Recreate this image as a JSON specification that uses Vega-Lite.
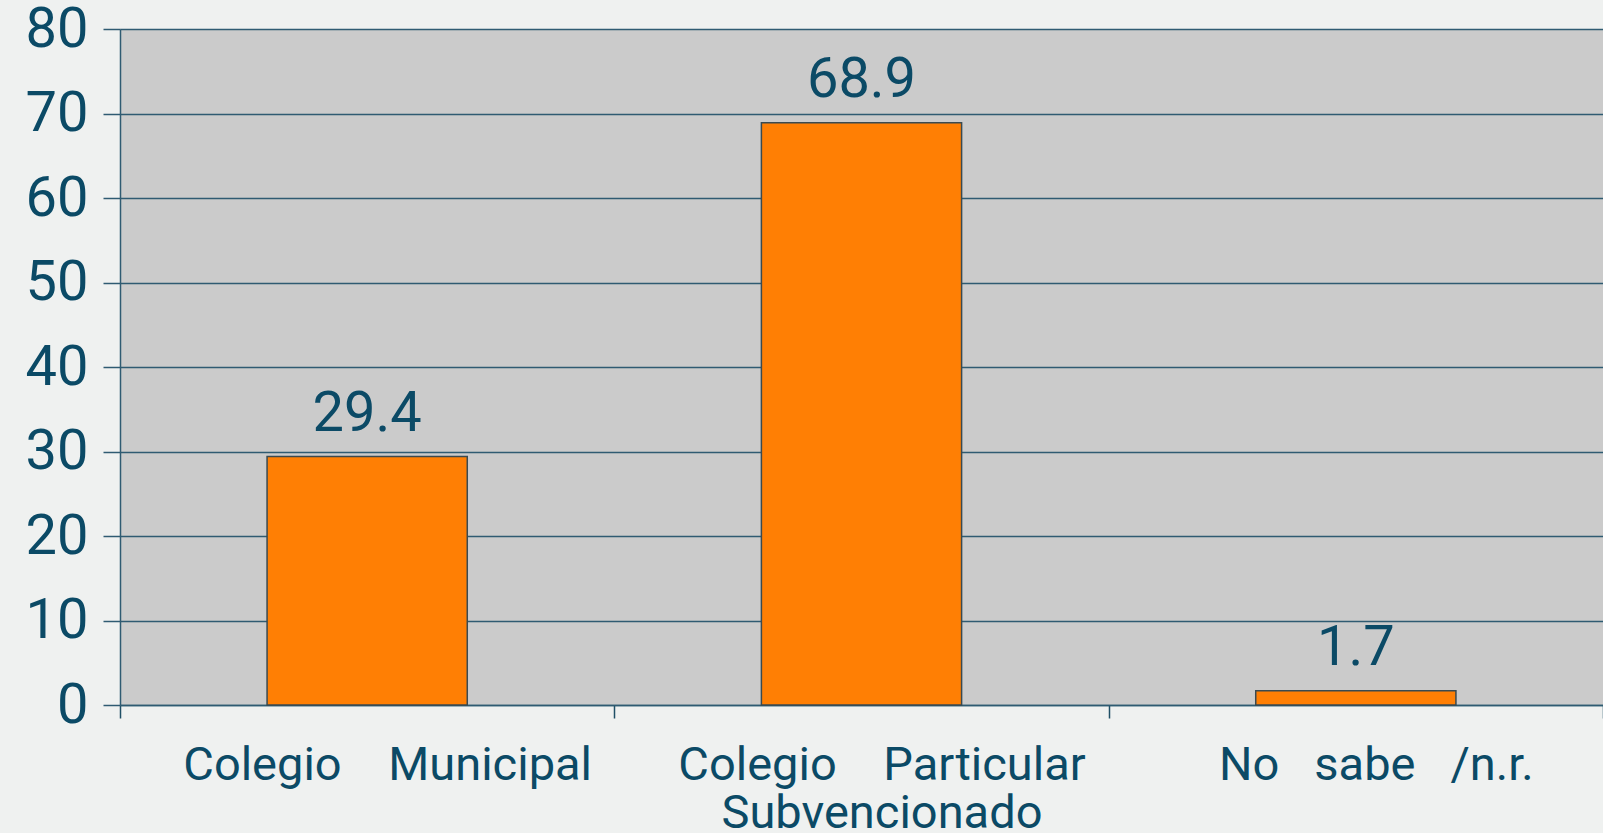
{
  "$schema": "https://vega.github.io/schema/vega-lite/v6.json",
  "width": 1483,
  "height": 676,
  "autosize": {"type": "none"},
  "padding": {"left": 120, "top": 29, "right": 0, "bottom": 128},
  "background": "#eff1f0",
  "config": {
    "view": {"fill": "#cbcbcb", "stroke": null},
    "font": "Roboto"
  },
  "data": {
    "values": [
      {"categoria": "Colegio\u00a0\u00a0\u00a0\u00a0Municipal", "valor": 29.4},
      {"categoria": "Colegio\u00a0\u00a0\u00a0\u00a0Particular Subvencionado", "valor": 68.9},
      {"categoria": "No\u00a0\u00a0\u00a0sabe\u00a0\u00a0\u00a0/n.r.", "valor": 1.7}
    ]
  },
  "encoding": {
    "x": {
      "field": "categoria",
      "type": "nominal",
      "sort": null,
      "scale": {"paddingInner": 0, "paddingOuter": 0},
      "axis": {
        "title": null,
        "labelAngle": 0,
        "tickBand": "extent",
        "tickSize": 13,
        "tickColor": "#1f4f66",
        "tickWidth": 1.5,
        "domainColor": "#2f5b72",
        "domainWidth": 1.5,
        "labelFont": "Roboto",
        "labelFontSize": 47,
        "labelColor": "#0b4a66",
        "labelPadding": 24,
        "labelOffset": 20,
        "labelLineHeight": 48,
        "labelLimit": 0,
        "labelExpr": "datum.value == 'Colegio\u00a0\u00a0\u00a0\u00a0Particular Subvencionado' ? ['Colegio\u00a0\u00a0\u00a0\u00a0Particular', 'Subvencionado'] : datum.label"
      }
    },
    "y": {
      "field": "valor",
      "type": "quantitative",
      "scale": {"domain": [0, 80], "nice": false},
      "axis": {
        "title": null,
        "values": [0, 10, 20, 30, 40, 50, 60, 70, 80],
        "grid": true,
        "gridColor": "#2f5b72",
        "gridWidth": 1.5,
        "tickSize": 17,
        "tickColor": "#2f5b72",
        "tickWidth": 1.5,
        "domainColor": "#2f5b72",
        "domainWidth": 1.5,
        "labelFont": "Roboto",
        "labelFontSize": 56,
        "labelColor": "#0b4a66",
        "labelPadding": 15,
        "labelBaseline": "middle"
      }
    }
  },
  "layer": [
    {
      "mark": {"type": "bar", "width": {"band": 0.405}, "fill": "#ff7f04", "stroke": "#3a4a50", "strokeWidth": 1.5}
    },
    {
      "mark": {"type": "text", "font": "Roboto", "fontSize": 56, "color": "#0b4a66", "baseline": "alphabetic", "align": "center", "dy": -26},
      "encoding": {"text": {"field": "valor", "type": "quantitative", "format": ".1f"}}
    }
  ]
}
